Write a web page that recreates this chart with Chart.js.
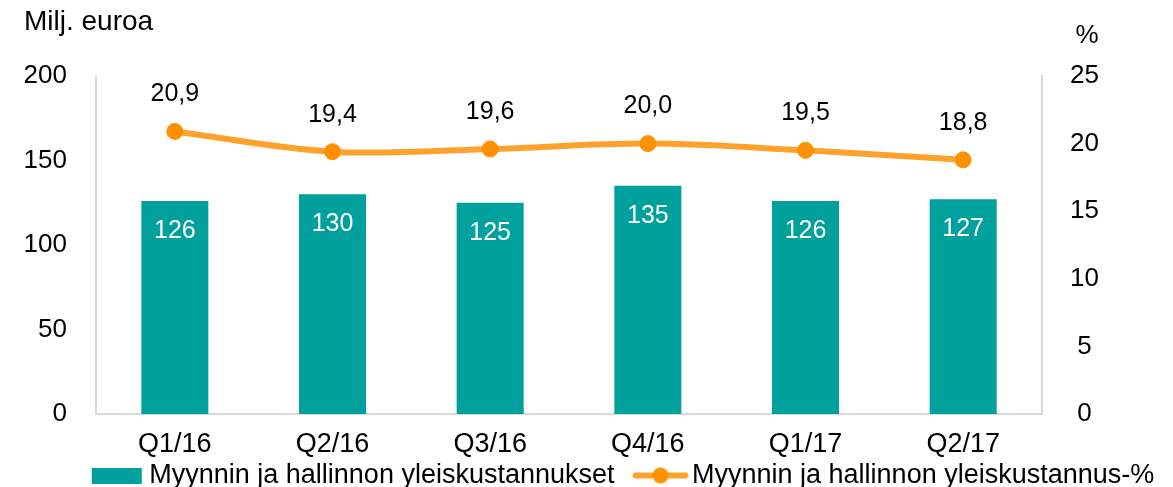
<!DOCTYPE html>
<html>
<head>
<meta charset="utf-8">
<script src="https://cdn.jsdelivr.net/npm/chart.js@4/dist/chart.umd.min.js"></script>
<style>
    html, body { margin: 0; padding: 0; background: #fff; overflow: hidden; }
    #wrap { width: 1173px; height: 499px; }
</style>
</head>
<body>
<div id="wrap"><canvas id="kustannusChart"></canvas></div>
<script>
// Datos del gráfico
const kvartaalit = ['Q1/16', 'Q2/16', 'Q3/16', 'Q4/16', 'Q1/17', 'Q2/17'];
const kustannukset = [126, 130, 125, 135, 126, 127];       // Milj. euroa
const kustannusProsentti = [20.9, 19.4, 19.6, 20.0, 19.5, 18.8]; // %
const vasenTicks = [0, 50, 100, 150, 200];
const oikeaTicks = [0, 5, 10, 15, 20, 25];

const TEAL = '#00A19C';
const ORANGE_LINE = '#FFA22B';
const ORANGE_POINT = '#FF9100';
const FONT = 'Liberation Sans';

// Iconos de la leyenda (lienzo de 82px, contenido desplazado a la derecha)
function barIcon() {
    const c = document.createElement('canvas');
    c.width = 82; c.height = 16;
    const g = c.getContext('2d');
    g.fillStyle = TEAL;
    g.fillRect(27, 0, 50, 16);
    return c;
}
function lineIcon() {
    const c = document.createElement('canvas');
    c.width = 82; c.height = 18;
    const g = c.getContext('2d');
    g.strokeStyle = ORANGE_LINE;
    g.lineWidth = 6;
    g.lineCap = 'round';
    g.beginPath(); g.moveTo(28, 9); g.lineTo(78, 9); g.stroke();
    g.fillStyle = ORANGE_POINT;
    g.beginPath(); g.arc(53, 9, 8, 0, Math.PI * 2); g.fill();
    return c;
}

// Etiquetas de datos y títulos de ejes
const labelsPlugin = {
    id: 'labelsPlugin',
    afterDatasetsDraw(chart) {
        const ctx = chart.ctx;
        ctx.save();
        ctx.font = '25px "' + FONT + '"';
        ctx.textAlign = 'center';
        ctx.textBaseline = 'middle';
        chart.getDatasetMeta(0).data.forEach((el, i) => {
            ctx.fillStyle = '#fff';
            ctx.fillText(String(kustannukset[i]), el.x, el.y + 30);
        });
        chart.getDatasetMeta(1).data.forEach((el, i) => {
            ctx.fillStyle = '#000';
            ctx.fillText(kustannusProsentti[i].toFixed(1).replace('.', ','), el.x, el.y - 37);
        });
        // Títulos de los ejes
        const area = chart.chartArea;
        ctx.textBaseline = 'alphabetic';
        ctx.font = '28px "' + FONT + '"';
        ctx.textAlign = 'left';
        ctx.fillText('Milj. euroa', 24, area.top - 46);
        ctx.font = '26px "' + FONT + '"';
        ctx.textAlign = 'center';
        ctx.fillText('%', chart.scales.y1.left + 45, area.top - 33);
        ctx.restore();
    }
};

// Desplazar la leyenda un poco a la derecha
const legendShift = {
    id: 'legendShift',
    afterLayout(chart) {
        if (chart.legend) chart.legend.left += 57;
    }
};

const ctx = document.getElementById('kustannusChart');
ctx.chart = new Chart(ctx, {
    type: 'bar',
    data: {
        labels: kvartaalit,
        datasets: [{
            label: 'Myynnin ja hallinnon yleiskustannukset',
            data: kustannukset,
            backgroundColor: TEAL,
            barPercentage: 0.425,
            categoryPercentage: 1,
            yAxisID: 'y',
            order: 1
        }, {
            type: 'line',
            label: 'Myynnin ja hallinnon yleiskustannus-%',
            data: kustannusProsentti,
            borderColor: ORANGE_LINE,
            borderWidth: 6,
            pointBackgroundColor: ORANGE_POINT,
            pointBorderColor: ORANGE_POINT,
            pointRadius: 8,
            pointBorderWidth: 1,
            tension: 0.35,
            yAxisID: 'y1',
            order: 0
        }]
    },
    options: {
        responsive: true,
        maintainAspectRatio: false,
        animation: false,
        layout: { padding: { top: 76, left: 0, right: 0, bottom: 0 } },
        scales: {
            x: {
                grid: { display: false, drawTicks: false },
                border: { display: true, color: '#d9d9d9', width: 2 },
                ticks: { color: '#000', padding: 17, font: { family: FONT, size: 27, lineHeight: 1 } },
                afterFit(s) { s.height = 44; }
            },
            y: {
                position: 'left',
                min: 0,
                max: 200,
                afterBuildTicks(s) { s.ticks = vasenTicks.map(v => ({ value: v })); },
                grid: { display: false, drawTicks: false },
                border: { display: true, color: '#d9d9d9', width: 2 },
                ticks: { color: '#000', padding: 29, font: { family: FONT, size: 26 } },
                afterFit(s) { s.width = 96; }
            },
            y1: {
                position: 'right',
                min: 0,
                max: 25,
                afterBuildTicks(s) { s.ticks = oikeaTicks.map(v => ({ value: v })); },
                grid: { display: false, drawTicks: false },
                border: { display: true, color: '#d9d9d9', width: 2 },
                ticks: { color: '#000', padding: 28, crossAlign: 'center', font: { family: FONT, size: 26 } },
                afterFit(s) { s.width = 131; }
            }
        },
        plugins: {
            tooltip: { enabled: false },
            legend: {
                position: 'bottom',
                labels: {
                    color: '#000',
                    font: { family: FONT, size: 27 },
                    padding: 4,
                    usePointStyle: true,
                    pointStyleWidth: 60,
                    generateLabels(chart) {
                        return chart.data.datasets.map((ds, i) => ({
                            text: ds.label,
                            datasetIndex: i,
                            fontColor: '#000',
                            pointStyle: i === 0 ? barIcon() : lineIcon(),
                            fillStyle: 'transparent',
                            strokeStyle: 'transparent',
                            lineWidth: 0
                        }));
                    }
                }
            }
        }
    },
    plugins: [labelsPlugin, legendShift]
});
</script>
</body>
</html>
